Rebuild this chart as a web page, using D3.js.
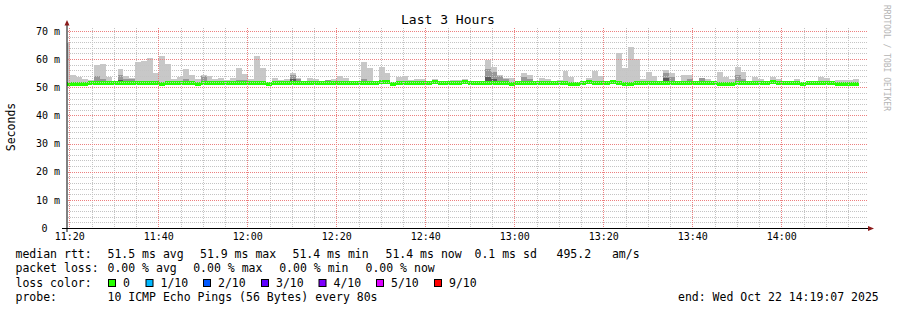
<!DOCTYPE html>
<html>
<head>
<meta charset="utf-8">
<script src="https://cdn.jsdelivr.net/npm/d3@7"></script>
<style>
  body { margin: 0; background: #fff; }
  text { font-family: "DejaVu Sans Mono", monospace; fill: #000; }
</style>
</head>
<body>
<div id="chart"></div>
<script>
// smokeping samples, one every 80s
const stepSec = 80
const firstSample = new Date(2025, 9, 22, 11, 18, 50)
const graphStart = new Date(2025, 9, 22, 11, 19, 7)
const graphEnd = new Date(2025, 9, 22, 14, 19, 7)

const maxRtt = [
  65.6, 54.3, 53.7, 52.8, 52.5, 57.8, 58.2, 53.7, 52.3, 56.4,
  54.0, 53.4, 59.0, 59.4, 60.3, 55.0, 61.1, 58.2, 53.1, 53.7,
  56.4, 54.3, 52.8, 54.3, 53.9, 52.8, 53.2, 52.5, 53.2, 56.8,
  54.6, 52.8, 61.0, 56.8, 52.0, 53.2, 52.5, 52.8, 55.0, 53.2,
  52.2, 53.2, 52.8, 52.2, 52.5, 52.8, 53.9, 53.2, 52.2, 52.2,
  58.9, 56.8, 52.2, 57.1, 55.0, 52.0, 53.6, 53.9, 52.5, 52.8,
  52.8, 52.2, 52.8, 52.2, 52.3, 52.5, 52.5, 52.8, 52.2, 52.2,
  52.2, 59.7, 57.2, 54.3, 53.2, 53.2, 52.2, 55.0, 54.3, 52.2,
  53.2, 52.8, 52.2, 52.5, 55.7, 53.7, 52.0, 52.2, 53.2, 55.7,
  53.9, 52.2, 52.2, 62.1, 56.8, 64.2, 60.0, 52.8, 55.3, 53.9,
  52.2, 56.0, 55.0, 52.2, 54.3, 54.3, 52.2, 53.2, 52.8, 52.2,
  55.3, 53.6, 52.8, 57.1, 55.3, 52.2, 53.6, 52.8, 52.2, 53.6,
  52.8, 52.2, 52.2, 52.8, 52.0, 52.2, 52.2, 53.6, 53.2, 52.2,
  52.5, 52.5, 52.5, 52.8
]

const midRtt = [
  null, null, null, null, null, 53.9, 52.8, null, null, 54.4,
  53.0, 53.1, null, null, null, null, null, null, null, null,
  52.8, null, null, 53.9, null, null, null, null, null, 52.6,
  52.4, null, null, null, null, null, null, null, 54.4, 52.8,
  null, null, null, null, 52.5, null, null, null, null, null,
  52.8, null, null, null, null, null, null, null, null, null,
  null, null, null, null, null, null, null, null, null, null,
  null, 56.4, 55.5, 54.0, 53.0, null, null, 53.7, 52.8, null,
  null, null, null, null, null, null, null, null, null, null,
  null, null, null, null, null, null, null, null, null, null,
  null, 54.9, 53.7, null, null, 52.8, null, 53.2, null, null,
  null, null, null, 54.3, 52.8, null, null, null, null, null,
  null, null, null, null, null, null, null, null, null, null,
  null, null, null, null
]

const darkRtt = [
  null, null, null, null, null, null, null, null, null, 52.6,
  null, null, null, null, null, null, null, null, null, null,
  null, null, null, null, null, null, null, null, null, null,
  null, null, null, null, null, null, null, null, 52.8, null,
  null, null, null, null, null, null, null, null, null, null,
  null, null, null, null, null, null, null, null, null, null,
  null, null, null, null, null, null, null, null, null, null,
  null, 53.5, 53.0, null, null, null, null, null, null, null,
  null, null, null, null, null, null, null, null, null, null,
  null, null, null, null, null, null, null, null, null, null,
  null, 53.2, null, null, null, null, null, null, null, null,
  null, null, null, null, null, null, null, null, null, null,
  null, null, null, null, null, null, null, null, null, null,
  null, null, null, null
]

const medianRtt = [
  51.0, 51.0, 51.0, 51.0, 51.5, 51.5, 51.5, 51.5, 51.5, 51.5,
  51.5, 51.5, 51.5, 51.5, 51.5, 51.5, 51.0, 51.5, 51.5, 51.5,
  51.5, 51.5, 51.0, 51.5, 51.5, 51.5, 51.5, 51.5, 51.5, 51.5,
  51.5, 51.5, 51.5, 51.5, 51.0, 51.5, 51.5, 51.5, 51.5, 51.5,
  51.5, 51.5, 51.5, 51.5, 51.5, 51.5, 51.5, 51.5, 51.5, 51.5,
  51.5, 51.5, 51.5, 51.8, 51.8, 51.0, 51.5, 51.5, 51.5, 51.5,
  51.5, 51.5, 51.8, 51.5, 51.5, 51.5, 51.5, 51.8, 51.5, 51.5,
  51.5, 51.5, 51.5, 51.5, 51.5, 51.0, 51.5, 51.5, 51.5, 51.5,
  51.5, 51.5, 51.5, 51.5, 51.5, 51.0, 51.0, 51.5, 51.8, 51.5,
  51.5, 51.5, 51.8, 51.5, 51.0, 51.0, 51.5, 51.5, 51.5, 51.5,
  51.5, 51.5, 51.5, 51.5, 51.5, 51.5, 51.5, 51.5, 51.5, 51.5,
  51.0, 51.0, 51.0, 51.5, 51.5, 51.5, 51.5, 51.5, 51.5, 51.8,
  51.5, 51.5, 51.5, 51.5, 51.0, 51.5, 51.5, 51.5, 51.5, 51.5,
  51.0, 51.0, 51.0, 51.0
]
const minRtt = 51.2

const yTicks = [0, 10, 20, 30, 40, 50, 60, 70]
const xTickLabels = ["11:20", "11:40", "12:00", "12:20", "12:40", "13:00", "13:20", "13:40", "14:00"]

const rttStats = ["51.5 ms avg", "51.9 ms max", "51.4 ms min", "51.4 ms now", "0.1 ms sd", "495.2   am/s"]
const lossStats = ["0.00 % avg", "0.00 % max", "0.00 % min", "0.00 % now"]
const lossLabels = ["0", "1/10", "2/10", "3/10", "4/10", "5/10", "9/10"]
const lossColors = ["#26ff00", "#00b8ff", "#0059ff", "#5e00ff", "#7e00ff", "#dd00ff", "#ff0000"]

const svg = d3.select("#chart")
    .append("svg")
    .attr("width", 897)
    .attr("height", 310)

const x = d3.scaleTime().domain([graphStart, graphEnd]).range([65.4, 866.4])
const y = d3.scaleLinear().domain([0, 71.05]).range([228, 28])

const barTime = i => new Date(firstSample.getTime() + i * stepSec * 1000)
const barX = i => Math.round(x(barTime(i)))
const barW = i => barX(i + 1) - barX(i)

svg.append("clipPath").attr("id", "plot")
    .append("rect")
    .attr("x", 67).attr("y", 20)
    .attr("width", 800).attr("height", 208)

const smoke = svg.append("g")
    .attr("clip-path", "url(#plot)")
    .attr("shape-rendering", "crispEdges")

// smoke layers, light to dark
const layers = [
  { vals: maxRtt, color: "#c8c8c8" },
  { vals: midRtt, color: "#989898" },
  { vals: darkRtt, color: "#5a5a5a" }
]
layers.forEach(l => {
  l.vals.forEach((v, i) => {
    if (v == null) return
    smoke.append("rect")
        .attr("x", barX(i))
        .attr("y", Math.round(y(v)))
        .attr("width", barW(i))
        .attr("height", Math.round(y(minRtt)) - Math.round(y(v)))
        .attr("fill", l.color)
  })
})

// median, coloured by loss (all 0 here)
medianRtt.forEach((v, i) => {
  smoke.append("rect")
      .attr("x", barX(i))
      .attr("y", Math.round(y(v)) - 2)
      .attr("width", barW(i))
      .attr("height", 4)
      .attr("fill", lossColors[0])
})

// grid, 1px dotted
const grid = svg.append("g")
const majorX = d3.timeMinute.every(20).range(graphStart, graphEnd)
const minorX = d3.timeMinute.every(5).range(graphStart, graphEnd)
    .filter(d => d.getMinutes() % 20)
const minorY = d3.range(2, 71, 2).filter(d => d % 10)

const vLines = (data, color) => grid.append("g").selectAll("line").data(data).join("line")
    .attr("x1", d => Math.round(x(d)) + 0.5).attr("x2", d => Math.round(x(d)) + 0.5)
    .attr("y1", 28).attr("y2", 228)
    .attr("stroke", color).attr("stroke-width", 1).attr("stroke-dasharray", "1 1")
const hLines = (data, color) => grid.append("g").selectAll("line").data(data).join("line")
    .attr("x1", 68).attr("x2", 868)
    .attr("y1", d => Math.round(y(d)) + 0.5).attr("y2", d => Math.round(y(d)) + 0.5)
    .attr("stroke", color).attr("stroke-width", 1).attr("stroke-dasharray", "1 1")

vLines(minorX, "#c4c4c4")
hLines(minorY, "#c4c4c4")
vLines(majorX, "#ec8080")
hLines(yTicks.filter(d => d > 0), "#ec8080")

// axes labels
const yAxis = svg.append("g")
    .attr("transform", "translate(66.5,0)")
    .call(d3.axisLeft(y).tickValues(yTicks).tickSize(0).tickPadding(6.5)
        .tickFormat(d => d ? d + " m" : "0"))
yAxis.select(".domain").remove()
yAxis.selectAll("text")
    .style("font-family", "DejaVu Sans Mono")
    .style("font-size", "10px")
    .attr("fill", "#000")
    .attr("dx", d => d ? 0 : -12.6)

const xAxis = svg.append("g")
    .attr("transform", "translate(0,228)")
    .call(d3.axisBottom(x)
        .tickValues(xTickLabels.map(s => d3.timeParse("%Y-%m-%d %H:%M")("2025-10-22 " + s)))
        .tickSize(0).tickPadding(5)
        .tickFormat(d3.timeFormat("%H:%M")))
xAxis.select(".domain").remove()
xAxis.selectAll("text")
    .style("font-family", "DejaVu Sans Mono")
    .style("font-size", "10px")
    .attr("fill", "#000")

// axis lines + arrows
svg.append("line")
    .attr("x1", 62).attr("x2", 869).attr("y1", 228.5).attr("y2", 228.5)
    .attr("stroke", "#000")
svg.append("line")
    .attr("x1", 67).attr("x2", 67).attr("y1", 232).attr("y2", 24)
    .attr("stroke", "#000")
svg.append("path")
    .attr("d", "M64.5,25.5 L67,20 L69.5,25.5 Z")
    .attr("fill", "#8b1a1a")
svg.append("path")
    .attr("d", "M868,226 L874,228.5 L868,231 Z")
    .attr("fill", "#8b1a1a")

// title and labels
svg.append("text")
    .attr("x", 448).attr("y", 24)
    .attr("text-anchor", "middle")
    .style("font-size", "13px")
    .text("Last 3 Hours")

svg.append("text")
    .attr("transform", "translate(15,127) rotate(-90)")
    .attr("text-anchor", "middle")
    .style("font-size", "11.5px")
    .text("Seconds")

svg.append("text")
    .attr("transform", "translate(884,5) rotate(90)")
    .attr("text-anchor", "start")
    .style("font-size", "8px")
    .style("fill", "#b4b4b4")
    .text("RRDTOOL / TOBI OETIKER")

// legend
const legend = svg.append("g").style("font-size", "11.5px")
const addText = (tx, ty, s) => legend.append("text")
    .attr("x", tx).attr("y", ty)
    .attr("xml:space", "preserve")
    .style("white-space", "pre")
    .text(s)

addText(15.5, 258, "median rtt:")
const rttX = [107.5, 200, 292.5, 385.5, 474.5, 556.5]
rttStats.forEach((s, i) => addText(rttX[i], 258, s))

addText(15.5, 272.3, "packet loss:")
const lossX = [107.5, 193.2, 279.2, 365.5]
lossStats.forEach((s, i) => addText(lossX[i], 272.3, s))

addText(15.5, 286.5, "loss color:")
const swatchX = [108.5, 146, 203.5, 261.5, 319, 376.5, 434.5]
lossLabels.forEach((s, i) => {
  legend.append("rect")
      .attr("x", swatchX[i]).attr("y", 279.5)
      .attr("width", 7).attr("height", 7)
      .attr("fill", lossColors[i])
      .attr("stroke", "#000").attr("stroke-width", 1)
  addText(swatchX[i] + 14.5, 286.5, s)
})

addText(15.5, 300.7, "probe:")
addText(107.5, 300.7, "10 ICMP Echo Pings (56 Bytes) every 80s")
addText(678, 300.7, "end: Wed Oct 22 14:19:07 2025")
</script>
</body>
</html>
